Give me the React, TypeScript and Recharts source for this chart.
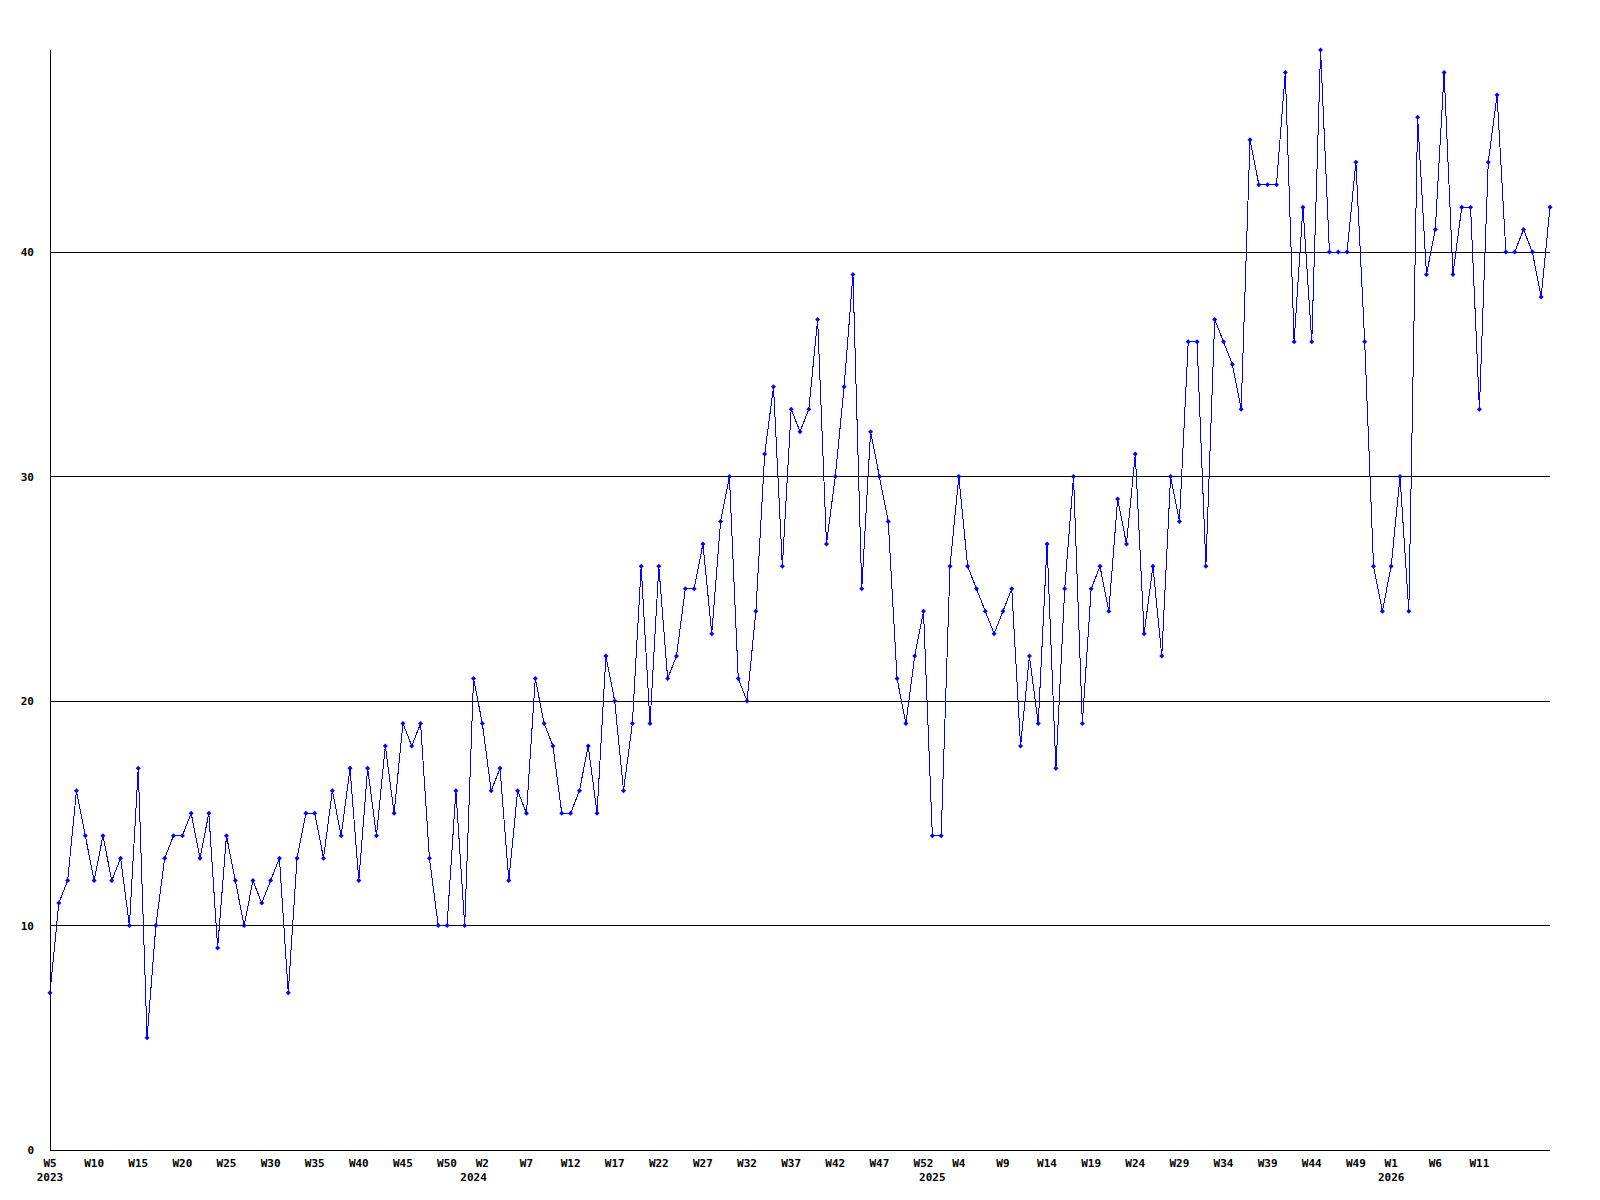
import { LineChart, Line, XAxis, YAxis, ReferenceLine } from "recharts";

// weekly counts, one list per year
const YEARS = [2023, 2024, 2025, 2026];
const FIRST_WEEK = [5, 1, 1, 1];

const VALUES_2023 = [
  7, 11, 12, 16, 14, 12, 14, 12, 13, 10, 17, 5, 10, 13, 14, 14, 15, 13, 15, 9,
  14, 12, 10, 12, 11, 12, 13, 7, 13, 15, 15, 13, 16, 14, 17, 12, 17, 14, 18, 15,
  19, 18, 19, 13, 10, 10, 16, 10,
];
const VALUES_2024 = [
  21, 19, 16, 17, 12, 16, 15, 21, 19, 18, 15, 15, 16, 18, 15, 22, 20, 16, 19, 26,
  19, 26, 21, 22, 25, 25, 27, 23, 28, 30, 21, 20, 24, 31, 34, 26, 33, 32, 33, 37,
  27, 30, 34, 39, 25, 32, 30, 28, 21, 19, 22, 24,
];
const VALUES_2025 = [
  14, 14, 26, 30, 26, 25, 24, 23, 24, 25, 18, 22, 19, 27, 17, 25, 30, 19, 25, 26,
  24, 29, 27, 31, 23, 26, 22, 30, 28, 36, 36, 26, 37, 36, 35, 33, 45, 43, 43, 43,
  48, 36, 42, 36, 49, 40, 40, 40, 44, 36, 26, 24,
];
const VALUES_2026 = [
  26, 30, 24, 46, 39, 41, 48, 39, 42, 42, 33, 44, 47, 40, 40, 41, 40, 38, 42,
];

// weeks that carry a label on the x axis
const LABEL_WEEKS_2023 = [5, 10, 15, 20, 25, 30, 35, 40, 45, 50];
const LABEL_WEEKS_2024 = [2, 7, 12, 17, 22, 27, 32, 37, 42, 47, 52];
const LABEL_WEEKS_2025 = [4, 9, 14, 19, 24, 29, 34, 39, 44, 49];
const LABEL_WEEKS_2026 = [1, 6, 11];

const Y_TICKS = [0, 10, 20, 30, 40];

const SERIES = [VALUES_2023, VALUES_2024, VALUES_2025, VALUES_2026];
const LABEL_WEEKS = [LABEL_WEEKS_2023, LABEL_WEEKS_2024, LABEL_WEEKS_2025, LABEL_WEEKS_2026];

const data = YEARS.flatMap((year, i) =>
  SERIES[i].map((value, j) => {
    const week = FIRST_WEEK[i] + j;
    return {
      key: `${year}-W${week}`,
      year,
      week,
      value,
      showWeek: LABEL_WEEKS[i].includes(week),
      showYear: j === 0,
    };
  })
);
const rowByKey = new Map(data.map((d) => [d.key, d]));

const FONT = {
  fontFamily: "'DejaVu Sans Mono', monospace",
  fontSize: 11,
  fontWeight: 700,
  fill: "#000",
};

function WeekTick(props: any) {
  const { x, y, payload } = props;
  const row = rowByKey.get(payload.value);
  if (!row) return <g />;
  return (
    <g>
      {row.showWeek && (
        <text x={x} y={y + 9} textAnchor="middle" {...FONT}>
          {`W${row.week}`}
        </text>
      )}
      {row.showYear && (
        <text x={x} y={y + 23} textAnchor="middle" {...FONT}>
          {row.year}
        </text>
      )}
    </g>
  );
}

function ValueTick(props: any) {
  const { x, y, payload } = props;
  return (
    <text x={x} y={y + 4} textAnchor="end" {...FONT}>
      {payload.value}
    </text>
  );
}

function Marker(props: any) {
  const { cx, cy, index } = props;
  const r = 2.5;
  return (
    <path
      key={`m-${index}`}
      d={`M${cx},${cy - r}L${cx + r},${cy}L${cx},${cy + r}L${cx - r},${cy}Z`}
      fill="#0000ff"
      stroke="none"
    />
  );
}

export default function App() {
  return (
    <div
      style={{
        position: "absolute",
        left: 0,
        top: 0,
        width: 1600,
        height: 1200,
        background: "#fff",
      }}
    >
      <style>{`
        .recharts-reference-line line,
        .recharts-cartesian-axis-line { shape-rendering: crispEdges; }
        .recharts-line-curve { shape-rendering: crispEdges; }
      `}</style>
      <LineChart
        width={1600}
        height={1200}
        data={data}
        margin={{ top: 50, right: 50, bottom: 0, left: 0 }}
      >
        <XAxis
          dataKey="key"
          interval={0}
          height={50}
          tickLine={false}
          axisLine={{ stroke: "#000" }}
          tick={<WeekTick />}
        />
        <YAxis
          type="number"
          domain={[0, 49]}
          ticks={Y_TICKS}
          width={50}
          tickLine={false}
          tickMargin={10}
          axisLine={{ stroke: "#000" }}
          tick={<ValueTick />}
        />
        {Y_TICKS.filter((t) => t > 0).map((t) => (
          <ReferenceLine key={t} y={t} stroke="#000" strokeWidth={1} />
        ))}
        <Line
          type="linear"
          dataKey="value"
          stroke="#0000ff"
          strokeWidth={1}
          dot={Marker}
          activeDot={false}
          isAnimationActive={false}
        />
      </LineChart>
    </div>
  );
}
